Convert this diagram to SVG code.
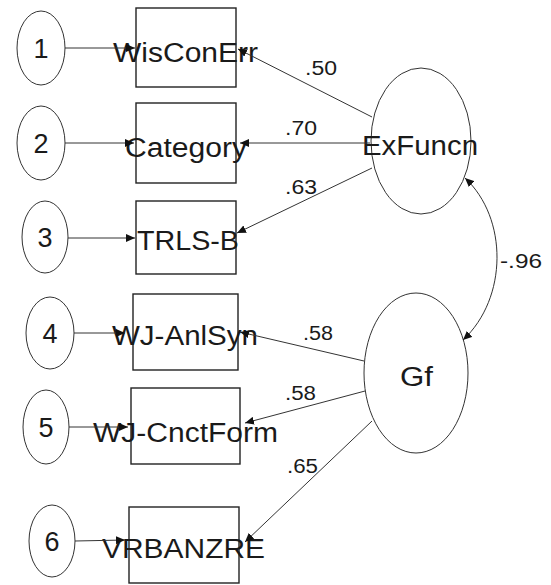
<svg xmlns="http://www.w3.org/2000/svg" width="551" height="585" viewBox="0 0 551 585">
<style>
.bg{fill:#ffffff}
.box{fill:none;stroke:#222;stroke-width:1.4}
.ell{fill:none;stroke:#333;stroke-width:1}
.ln{fill:none;stroke:#333;stroke-width:1;marker-end:url(#ah)}
.t{font-family:"Liberation Sans",Arial,sans-serif;font-size:27px;fill:#1a1a1a}
.c{text-anchor:middle}
.lb{font-family:"Liberation Sans",Arial,sans-serif;font-size:20px;fill:#1a1a1a}
</style>
<defs>
<marker id="ah" markerWidth="10" markerHeight="8" refX="9" refY="4" orient="auto" markerUnits="userSpaceOnUse">
<path d="M0,0 L9,4 L0,8 Z" fill="#111"/>
</marker>
<marker id="ahs" markerWidth="10" markerHeight="8" refX="9" refY="4" orient="auto-start-reverse" markerUnits="userSpaceOnUse">
<path d="M0,0 L9,4 L0,8 Z" fill="#111"/>
</marker>
</defs>
<rect class="bg" x="0" y="0" width="551" height="585"/>

<g id="e1"><ellipse class="ell" cx="41" cy="48" rx="24" ry="37"/><text class="t c" x="41" y="58">1</text></g>
<g id="e2"><ellipse class="ell" cx="41" cy="143" rx="24" ry="37"/><text class="t c" x="41" y="153">2</text></g>
<g id="e3"><ellipse class="ell" cx="45" cy="237" rx="23" ry="36"/><text class="t c" x="45" y="247">3</text></g>
<g id="e4"><ellipse class="ell" cx="50" cy="333" rx="24" ry="36"/><text class="t c" x="50" y="343">4</text></g>
<g id="e5"><ellipse class="ell" cx="46" cy="427" rx="23" ry="37"/><text class="t c" x="46" y="437">5</text></g>
<g id="e6"><ellipse class="ell" cx="52" cy="541" rx="23" ry="36"/><text class="t c" x="52" y="551">6</text></g>

<g id="b1"><rect class="box" x="136" y="8" width="100" height="79"/><text class="t" x="113" y="62" textLength="145" lengthAdjust="spacingAndGlyphs">WisConErr</text></g>
<g id="b2"><rect class="box" x="136" y="103" width="100" height="80"/><text class="t" x="125" y="157" textLength="122" lengthAdjust="spacingAndGlyphs">Category</text></g>
<g id="b3"><rect class="box" x="136" y="201" width="100" height="73"/><text class="t" x="137" y="250" textLength="102" lengthAdjust="spacingAndGlyphs">TRLS-B</text></g>
<g id="b4"><rect class="box" x="133" y="294" width="105" height="76"/><text class="t" x="112" y="345" textLength="146" lengthAdjust="spacingAndGlyphs">WJ-AnlSyn</text></g>
<g id="b5"><rect class="box" x="131" y="388" width="109" height="76"/><text class="t" x="93" y="442" textLength="185" lengthAdjust="spacingAndGlyphs">WJ-CnctForm</text></g>
<g id="b6"><rect class="box" x="129" y="507" width="110" height="76"/><text class="t" x="102" y="558" textLength="163" lengthAdjust="spacingAndGlyphs">VRBANZRE</text></g>

<g id="exfuncn"><ellipse class="ell" cx="421" cy="141" rx="50" ry="73"/><text class="t" x="362" y="155" textLength="116" lengthAdjust="spacingAndGlyphs">ExFuncn</text></g>
<g id="gf"><ellipse class="ell" cx="416" cy="373" rx="52" ry="80"/><text class="t" x="400" y="386" textLength="33" lengthAdjust="spacingAndGlyphs">Gf</text></g>

<g id="connectors">
<path class="ln" d="M65,48 L135,48"/>
<path class="ln" d="M65,143 L134,143"/>
<path class="ln" d="M68,238 L135,238"/>
<path class="ln" d="M74,333 L125,333"/>
<path class="ln" d="M69,427 L128,427"/>
<path class="ln" d="M75,541 L125,540"/>
<path class="ln" d="M372,117 L238,49"/>
<path class="ln" d="M370,143 L240,143"/>
<path class="ln" d="M372,168 L237,233"/>
<path class="ln" d="M364,361 L240,332"/>
<path class="ln" d="M365,391 L245,423"/>
<path class="ln" d="M372,421 L245,542"/>
<path d="M465,178 C508,218 508,298 463,340" fill="none" stroke="#333" stroke-width="1" marker-start="url(#ahs)" marker-end="url(#ahs)"/>
<text class="lb" x="305" y="75" textLength="32" lengthAdjust="spacingAndGlyphs">.50</text>
<text class="lb" x="285" y="135" textLength="32" lengthAdjust="spacingAndGlyphs">.70</text>
<text class="lb" x="285" y="194" textLength="32" lengthAdjust="spacingAndGlyphs">.63</text>
<text class="lb" x="500" y="268" textLength="42" lengthAdjust="spacingAndGlyphs">-.96</text>
<text class="lb" x="303" y="340" textLength="30" lengthAdjust="spacingAndGlyphs">.58</text>
<text class="lb" x="285" y="400" textLength="31" lengthAdjust="spacingAndGlyphs">.58</text>
<text class="lb" x="287" y="473" textLength="31" lengthAdjust="spacingAndGlyphs">.65</text>
</g>
</svg>
